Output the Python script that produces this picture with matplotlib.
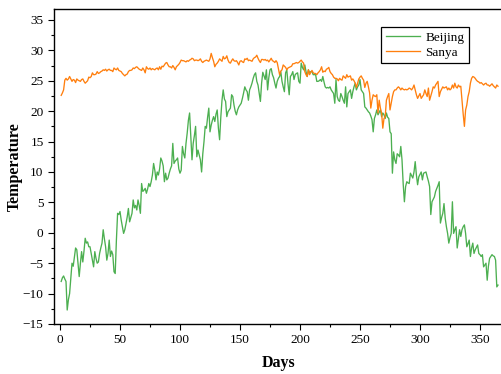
import matplotlib
matplotlib.use("Agg")
import matplotlib.pyplot as plt
from matplotlib.ticker import MultipleLocator

days = list(range(1, 366))

beijing = [
    -8.0, -7.4, -7.1, -7.6, -8.0, -12.7, -11.0, -10.0, -7.5, -5.0,
    -5.5, -4.0, -2.5, -2.8, -5.0, -7.2, -5.0, -3.1, -4.8, -3.0,
    -0.9, -1.7, -1.5, -2.3, -2.3, -3.4, -4.5, -5.6, -3.1, -4.2,
    -5.0, -4.8, -3.4, -2.5, -1.7, 0.5, -1.0, -2.3, -4.5, -3.4,
    -1.2, -3.9, -3.0, -3.6, -6.4, -6.7, -1.2, 3.2, 3.0, 3.5,
    2.1, 1.0, -0.1, 0.5, 1.5, 2.6, 4.0, 1.8, 2.5, 3.2,
    5.4, 4.1, 4.5, 3.75, 5.4, 4.5, 3.2, 8.1, 6.8, 7.0,
    7.3, 6.5, 7.2, 8.1, 7.6, 8.4, 9.5, 11.4, 10.3, 8.7,
    10.0, 9.5, 10.5, 12.3, 11.8, 11.0, 8.4, 9.8, 8.7, 9.0,
    9.8, 10.5, 11.0, 14.7, 11.4, 11.8, 12.0, 12.3, 10.5, 9.8,
    10.3, 14.2, 13.0, 12.3, 14.7, 16.4, 18.5, 19.7, 15.8, 12.0,
    14.7, 16.0, 17.5, 12.5, 13.6, 12.8, 12.0, 10.0, 13.0, 15.0,
    17.5, 17.2, 19.0, 20.5, 16.6, 17.7, 18.5, 19.1, 18.3, 19.5,
    20.2, 17.2, 15.3, 19.0, 21.8, 23.5, 22.0, 21.6, 19.1, 19.9,
    20.2, 20.5, 22.7, 22.4, 21.0, 20.0, 19.4, 20.2, 20.7, 21.0,
    21.3, 22.1, 23.0, 24.0, 23.5, 23.2, 21.8, 23.5, 24.0, 24.6,
    25.4, 26.0, 26.3, 24.9, 24.3, 23.0, 21.6, 24.6, 26.4, 25.8,
    25.2, 26.8, 23.5, 25.5, 26.8, 27.0, 26.0, 25.5, 24.6, 23.8,
    24.9, 25.4, 25.7, 26.5, 24.9, 24.0, 23.2, 26.3, 26.8, 24.5,
    22.7, 25.7, 26.0, 26.5, 25.2, 26.0, 26.2, 26.3, 24.9, 24.6,
    27.9, 27.2, 26.8, 27.6, 26.5, 25.7, 26.8, 26.3, 26.5, 26.5,
    26.0, 26.0, 26.0, 24.9, 24.9, 25.0, 25.2, 24.9, 25.7, 24.8,
    24.0, 23.8, 23.9, 23.8, 24.0, 23.5, 23.2, 22.9, 21.3, 25.2,
    22.4, 21.8, 21.6, 22.9, 22.4, 21.8, 21.3, 24.0, 20.7, 22.9,
    23.2, 23.5, 22.1, 23.2, 24.0, 24.6, 23.5, 24.0, 24.3, 25.2,
    23.5, 23.2, 22.9, 20.7, 20.5, 20.2, 19.9, 19.7, 19.2, 18.6,
    16.6, 18.8, 19.4, 20.2, 19.4, 19.8, 20.2, 19.1, 19.7, 19.4,
    18.8, 19.7, 19.0, 18.8, 16.6, 16.3, 9.8, 13.3, 12.0, 11.4,
    13.0, 12.8, 12.5, 14.2, 12.0, 8.0, 5.1, 7.6, 8.4, 8.2,
    8.1, 9.8, 9.4, 9.0, 10.0, 11.7, 9.5, 7.9, 9.2, 9.6,
    10.0, 8.7, 9.8, 9.9, 10.0, 9.2, 8.5, 7.6, 3.0, 5.1,
    5.5, 5.9, 6.8, 7.3, 7.8, 8.4, 1.6, 2.5, 3.2, 4.8,
    2.4, 1.0, -0.1, -1.7, -0.8, -0.1, 5.1, -0.1, 0.5, 1.0,
    -2.5, -1.0, 0.5, -0.6, 0.5, 1.0, 1.3, -0.1, -2.3, -1.8,
    -1.2, -3.9, -2.5, -1.7, -3.4, -2.8, -2.4, -2.0, -3.4, -3.6,
    -3.9, -3.6, -5.6, -5.3, -5.0, -7.8, -5.5, -4.2, -3.9, -3.6,
    -3.8, -3.9, -4.5, -8.9, -8.6,
]

sanya = [
    22.6, 23.0, 23.5, 25.1, 25.4, 25.1, 25.3, 25.7, 25.3, 24.9,
    25.2, 25.1, 24.7, 25.3, 25.1, 25.0, 24.9, 25.2, 25.3, 24.9,
    24.6, 24.8, 25.0, 25.6, 25.5, 25.7, 26.3, 26.0, 26.0, 26.1,
    26.5, 26.2, 26.3, 26.5, 26.6, 26.8, 26.7, 26.9, 26.6, 26.8,
    26.9, 26.7, 26.7, 26.5, 27.1, 26.9, 26.8, 27.1, 26.7, 26.6,
    26.5, 26.2, 26.0, 25.8, 26.0, 26.1, 26.5, 26.7, 26.7, 26.8,
    27.1, 27.0, 27.2, 27.3, 27.1, 26.9, 26.8, 26.7, 27.1, 26.8,
    26.3, 27.3, 27.0, 26.9, 27.1, 26.8, 27.0, 26.9, 26.8, 27.0,
    27.1, 26.8, 27.3, 26.9, 27.4, 27.3, 27.6, 27.9, 28.0, 27.6,
    27.3, 27.3, 27.1, 27.5, 27.2, 26.8, 27.3, 27.5, 27.7, 28.0,
    28.4, 28.3, 28.3, 28.2, 28.1, 28.3, 28.2, 28.4, 28.5, 28.7,
    28.6, 28.3, 28.4, 28.4, 28.3, 28.4, 28.6, 28.2, 28.0, 28.2,
    28.3, 28.4, 28.3, 28.2, 28.6, 29.5, 28.8, 28.2, 27.3, 27.7,
    27.9, 28.2, 28.6, 28.4, 28.2, 29.0, 28.6, 28.7, 29.1, 28.4,
    28.0, 27.9, 28.3, 28.6, 28.3, 28.2, 28.3, 28.0, 27.6, 28.2,
    28.3, 28.1, 28.0, 28.6, 28.5, 28.7, 28.3, 28.4, 28.3, 28.2,
    28.6, 28.8, 28.9, 29.2, 28.7, 28.3, 28.0, 28.5, 28.5, 28.4,
    28.5, 28.3, 28.4, 28.1, 28.4, 28.7, 28.3, 28.2, 28.0, 28.3,
    28.0, 27.0, 26.0, 26.6, 26.8, 27.6, 27.4, 27.2, 26.8, 27.1,
    27.2, 27.3, 27.4, 27.8, 27.8, 27.9, 28.0, 27.9, 28.0, 28.2,
    28.4, 28.1, 27.9, 26.5, 26.0, 25.7, 26.8, 26.0, 26.4, 26.7,
    26.3, 26.2, 26.2, 26.0, 26.3, 26.5, 26.8, 27.3, 26.4, 26.6,
    26.5, 26.9, 27.0, 27.2, 26.5, 26.2, 26.0, 25.6, 25.4, 25.4,
    25.3, 25.0, 25.4, 25.2, 25.1, 25.8, 25.6, 25.4, 26.0, 25.6,
    25.7, 25.8, 25.1, 25.3, 25.0, 24.6, 23.9, 24.6, 25.3, 25.6,
    25.8, 25.4, 25.1, 23.9, 24.6, 24.9, 24.0, 23.0, 20.5, 21.8,
    22.7, 22.5, 22.4, 22.7, 19.7, 21.8, 20.5, 19.7, 17.2, 18.8,
    19.1, 21.8, 22.4, 22.9, 20.2, 21.3, 22.4, 23.2, 23.5, 23.5,
    23.8, 24.0, 23.8, 23.5, 23.8, 23.6, 23.5, 23.6, 23.5, 23.6,
    23.8, 23.7, 23.5, 23.8, 24.3, 23.5, 22.7, 22.1, 22.5, 22.9,
    22.1, 22.4, 22.7, 23.5, 22.9, 22.4, 23.8, 21.8, 22.5, 23.2,
    24.0, 23.8, 24.3, 24.6, 24.9, 22.4, 23.2, 23.6, 24.0, 23.8,
    23.9, 24.0, 23.5, 23.8, 23.5, 23.7, 24.3, 23.8, 24.6, 24.0,
    23.8, 24.3, 24.0, 24.1, 21.8, 19.5, 17.5, 20.2, 21.0, 22.4,
    23.2, 24.6, 25.4, 25.7, 25.6, 25.4, 25.1, 24.9, 24.8, 24.6,
    24.7, 24.5, 24.3, 24.5, 24.6, 24.3, 24.3, 24.1, 24.3, 24.5,
    24.2, 24.0, 23.8, 24.3, 24.1,
]

series_names = ["Beijing", "Sanya"]
series_colors = ["#4caf50", "#ff7f0e"]

plt.rcParams['font.family'] = ['Liberation Serif', 'DejaVu Serif']

fig = plt.figure(figsize=(5.01, 3.74), dpi=100)
ax = fig.add_axes([54 / 501, 1 - 324 / 374, 450 / 501, 315 / 374])

ax.plot(days, beijing, color=series_colors[0], lw=0.95, label=series_names[0])
ax.plot(days, sanya, color=series_colors[1], lw=0.95, label=series_names[1])

ax.set_xlim(-5, 370)
ax.set_ylim(-15, 36.8)
ax.xaxis.set_major_locator(MultipleLocator(50))
ax.xaxis.set_minor_locator(MultipleLocator(25))
ax.yaxis.set_major_locator(MultipleLocator(5))
ax.yaxis.set_minor_locator(MultipleLocator(2.5))
ax.tick_params(which='major', direction='out', length=4, width=0.8, labelsize=9.5)
ax.tick_params(which='minor', direction='out', length=2.5, width=0.8)
ax.tick_params(axis='x', pad=3)
for s in ax.spines.values():
    s.set_linewidth(1.0)

ax.set_xlabel("Days", fontsize=11.5, fontweight='bold', labelpad=7)
ax.set_ylabel("Temperature", fontsize=11.5, fontweight='bold', labelpad=0)

leg = ax.legend(loc='upper right', bbox_to_anchor=(0.922, 0.943), borderaxespad=0,
                fancybox=False, edgecolor='black', framealpha=1, fontsize=9.5,
                handlelength=2.6, borderpad=0.35, labelspacing=0.2, handletextpad=0.4)
leg.get_frame().set_linewidth(0.9)

fig.savefig("out.png", dpi=100)
